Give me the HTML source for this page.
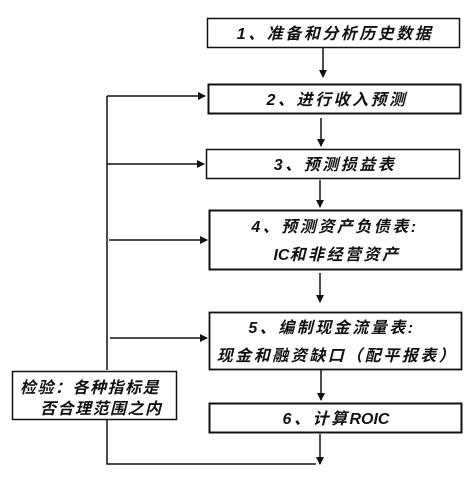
<!DOCTYPE html>
<html><head><meta charset="utf-8"><style>
html,body{margin:0;padding:0;background:#fff;}
svg text{font-family:"Liberation Sans","Noto Sans CJK SC",sans-serif;font-style:italic;font-weight:bold;font-size:16px;fill:#111;letter-spacing:2.5px;}
.n{letter-spacing:0;}
</style></head><body>
<svg width="476" height="476" viewBox="0 0 476 476" xmlns="http://www.w3.org/2000/svg">
<defs><marker id="a" markerWidth="8" markerHeight="8" refX="7" refY="4" orient="auto" markerUnits="userSpaceOnUse"><path d="M0,0 L8,4 L0,8 z" fill="#111"/></marker></defs>
<g fill="#fff" stroke="#111" stroke-width="1.5">
<rect x="207.5" y="18.5" width="252" height="29"/>
<rect x="208.5" y="84.5" width="252" height="29" stroke-width="2"/>
<rect x="206.5" y="149.5" width="253" height="29"/>
<rect x="209.5" y="210.5" width="252" height="59" stroke-width="2"/>
<rect x="209.5" y="312.5" width="252" height="57" stroke-width="1.8"/>
<rect x="12.5" y="371.5" width="164" height="48"/>
<rect x="209.5" y="403.5" width="252" height="29" stroke-width="2"/>
</g>
<g stroke="#111" stroke-width="1.5" fill="none">
<line x1="323" y1="48" x2="323" y2="77" marker-end="url(#a)"/>
<line x1="321" y1="118" x2="321" y2="146" marker-end="url(#a)"/>
<line x1="320" y1="180" x2="320" y2="207" marker-end="url(#a)"/>
<line x1="320" y1="273" x2="320" y2="302" marker-end="url(#a)"/>
<line x1="321" y1="370" x2="321" y2="400" marker-end="url(#a)"/>
<line x1="320" y1="434" x2="320" y2="464" marker-end="url(#a)"/>
<polyline points="107,370 107,96"/>
<line x1="107" y1="96" x2="205" y2="96" marker-end="url(#a)"/>
<line x1="107" y1="164" x2="204" y2="164" marker-end="url(#a)"/>
<line x1="109" y1="240" x2="207" y2="240" marker-end="url(#a)"/>
<line x1="110" y1="338" x2="207" y2="338" marker-end="url(#a)"/>
<polyline points="107,420 107,464 316,464"/>
</g>
<text x="335" y="39" text-anchor="middle">1、准备和分析历史数据</text>
<text x="337" y="105" text-anchor="middle">2、进行收入预测</text>
<text x="335" y="170" text-anchor="middle">3、预测损益表</text>
<text x="335" y="232" text-anchor="middle">4、预测资产负债表:</text>
<text x="337" y="260" text-anchor="middle"><tspan class="n">IC</tspan>和非经营资产</text>
<text x="332" y="333" text-anchor="middle">5、编制现金流量表:</text>
<text x="337" y="361" text-anchor="middle">现金和融资缺口（配平报表）</text>
<text x="20" y="393" style="letter-spacing:1.5px">检验：各种指标是</text>
<text x="40" y="414" style="letter-spacing:1.5px">否合理范围之内</text>
<text x="336" y="424" text-anchor="middle">6、计算<tspan class="n">ROIC</tspan></text>
</svg>
</body></html>
